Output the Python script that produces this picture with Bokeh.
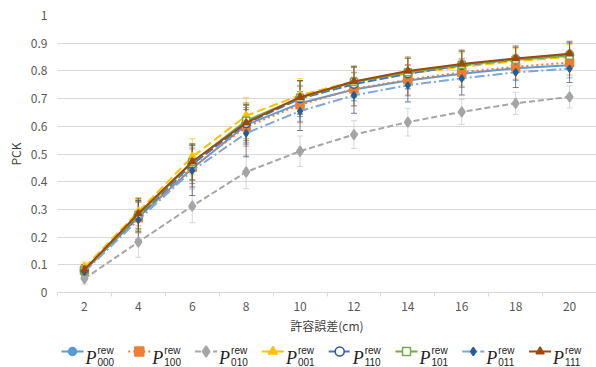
from bokeh.plotting import figure
from bokeh.models import (ColumnDataSource, Range1d, FixedTicker, Whisker, TeeHead,
                          CustomJSTickFormatter)
from bokeh.layouts import column
from bokeh.core.properties import value
from bokeh.embed import file_html
from bokeh.resources import INLINE

# ---------------- data ----------------
tol = [2, 4, 6, 8, 10, 12, 14, 16, 18, 20]

codes = ["000", "100", "010", "001", "110", "101", "011", "111"]

p000 = [0.080, 0.272, 0.448, 0.605, 0.683, 0.733, 0.765, 0.790, 0.810, 0.820]
p100 = [0.080, 0.270, 0.452, 0.598, 0.678, 0.735, 0.768, 0.795, 0.815, 0.830]
p010 = [0.050, 0.182, 0.312, 0.435, 0.510, 0.570, 0.615, 0.652, 0.683, 0.706]
p001 = [0.090, 0.292, 0.490, 0.638, 0.712, 0.762, 0.790, 0.815, 0.835, 0.850]
p110 = [0.080, 0.275, 0.463, 0.610, 0.700, 0.752, 0.790, 0.820, 0.840, 0.857]
p101 = [0.080, 0.280, 0.470, 0.620, 0.703, 0.760, 0.795, 0.822, 0.840, 0.855]
p011 = [0.075, 0.262, 0.440, 0.575, 0.655, 0.712, 0.748, 0.773, 0.795, 0.808]
p111 = [0.082, 0.285, 0.472, 0.613, 0.705, 0.762, 0.800, 0.825, 0.845, 0.862]

e000 = [0.020, 0.055, 0.070, 0.070, 0.065, 0.060, 0.055, 0.050, 0.045, 0.045]
e100 = [0.020, 0.055, 0.070, 0.070, 0.065, 0.060, 0.055, 0.050, 0.045, 0.045]
e010 = [0.020, 0.055, 0.060, 0.060, 0.055, 0.050, 0.050, 0.045, 0.040, 0.040]
e001 = [0.020, 0.050, 0.065, 0.065, 0.060, 0.055, 0.055, 0.050, 0.045, 0.045]
e110 = [0.020, 0.055, 0.070, 0.070, 0.065, 0.060, 0.055, 0.050, 0.045, 0.045]
e101 = [0.020, 0.055, 0.065, 0.065, 0.060, 0.055, 0.050, 0.050, 0.045, 0.045]
e011 = [0.020, 0.070, 0.090, 0.085, 0.070, 0.065, 0.060, 0.060, 0.055, 0.050]
e111 = [0.020, 0.055, 0.065, 0.065, 0.060, 0.055, 0.050, 0.050, 0.045, 0.045]

y_ticks = [i / 10 for i in range(11)]
x_label = "許容誤差(cm)"
y_label = "PCK"

values = [p000, p100, p010, p001, p110, p101, p011, p111]
errors = [e000, e100, e010, e001, e110, e101, e011, e111]

styles = [
    dict(lc="#5B9BD5", dash="solid", mk="circle", fc="#5B9BD5", mc="#5B9BD5", sz=7, ec="#5B9BD5"),
    dict(lc="#ED7D31", dash="2 3", mk="square", fc="#ED7D31", mc="#ED7D31", sz=8, ec="#ED7D31"),
    dict(lc="#A5A5A5", dash="6 3", mk="diamond", fc="#A5A5A5", mc="#A5A5A5", sz=10, ec="#C8C8C8"),
    dict(lc="#FFC000", dash="9 4", mk="triangle", fc="#FFC000", mc="#FFC000", sz=8, ec="#FFC000"),
    dict(lc="#4472C4", dash="9 3", mk="circle", fc="white", mc="#2F5597", sz=8, ec="#4472C4"),
    dict(lc="#70AD47", dash="solid", mk="square", fc="white", mc="#70AD47", sz=7, ec="#70AD47"),
    dict(lc="#7FA6D8", dash="10 3 2 3", mk="diamond", fc="#255E91", mc="#255E91", sz=7, ec="#44546A"),
    dict(lc="#9E480E", dash="solid", mk="triangle", fc="#9E480E", mc="#9E480E", sz=7, ec="#9E480E"),
]

FONT = "Noto Sans CJK JP"
W = 596
MAIN_H = 336
LH = 31
LEFT = 57

p = figure(width=W, height=MAIN_H, x_range=Range1d(1.0, 21.0), y_range=Range1d(0, 1),
           output_backend="svg", toolbar_location=None,
           min_border_left=LEFT, min_border_right=0, min_border_top=15, min_border_bottom=42)
p.outline_line_color = None
p.background_fill_color = "white"
p.xgrid.visible = False
p.ygrid.grid_line_color = "#D9D9D9"
p.ygrid.grid_line_width = 1

p.xaxis.ticker = FixedTicker(ticks=tol, minor_ticks=[1, 3, 5, 7, 9, 11, 13, 15, 17, 19, 21])
p.xaxis.major_tick_line_color = None
p.xaxis.major_tick_out = 0
p.xaxis.major_tick_in = 0
p.xaxis.minor_tick_line_color = "#D9D9D9"
p.xaxis.minor_tick_out = 4
p.xaxis.minor_tick_in = 0
p.xaxis.axis_line_color = "#D9D9D9"
p.xaxis.axis_label = x_label
p.xaxis.major_label_standoff = 5
p.xaxis.axis_label_standoff = 3

p.yaxis.ticker = FixedTicker(ticks=y_ticks, minor_ticks=[])
p.yaxis.formatter = CustomJSTickFormatter(code="return String(Math.round(tick*10)/10)")
p.yaxis.axis_line_color = None
p.yaxis.major_tick_line_color = None
p.yaxis.major_tick_out = 0
p.yaxis.major_tick_in = 0
p.yaxis.minor_tick_line_color = None
p.yaxis.axis_label = y_label
p.yaxis.major_label_standoff = 10
p.yaxis.axis_label_standoff = 4

for ax in (p.xaxis, p.yaxis):
    ax.major_label_text_font = FONT
    ax.major_label_text_font_size = "12px"
    ax.major_label_text_color = "#595959"
    ax.axis_label_text_font = FONT
    ax.axis_label_text_font_size = "12px"
    ax.axis_label_text_font_style = "normal"
    ax.axis_label_text_color = "#404040"

sources = []
for vals, errs, st in zip(values, errors, styles):
    src = ColumnDataSource(dict(
        x=tol, y=vals,
        upper=[v + e for v, e in zip(vals, errs)],
        lower=[v - e for v, e in zip(vals, errs)]))
    sources.append(src)
    w = Whisker(base="x", upper="upper", lower="lower", source=src, dimension="height",
                line_color=st["ec"], line_width=1, line_alpha=0.75,
                upper_head=TeeHead(size=6, line_color=st["ec"], line_width=1, line_alpha=0.75),
                lower_head=TeeHead(size=6, line_color=st["ec"], line_width=1, line_alpha=0.75))
    p.add_layout(w)

for src, st in zip(sources, styles):
    p.line("x", "y", source=src, line_color=st["lc"], line_width=2, line_dash=st["dash"])
    p.scatter("x", "y", source=src, marker=st["mk"], size=st["sz"], fill_color=st["fc"],
              line_color=st["mc"], line_width=1.5)

# ---------------- legend (separate strip, frame aligned with main plot) ----------------
leg = figure(width=W, height=LH, x_range=Range1d(LEFT, W), y_range=Range1d(0, LH),
             output_backend="svg", toolbar_location=None, x_axis_type=None, y_axis_type=None,
             min_border=0, min_border_left=LEFT, min_border_right=0, min_border_top=0,
             min_border_bottom=0)
leg.outline_line_color = None
leg.grid.visible = False

for i, (code, st) in enumerate(zip(codes, styles)):
    x0 = 61 + 66.8 * i
    ly = 16
    leg.segment(x0=[x0], y0=[ly], x1=[x0 + 22], y1=[ly], line_color=st["lc"], line_width=2,
                line_dash=st["dash"])
    leg.scatter(x=[x0 + 11], y=[ly], marker=st["mk"], size=st["sz"] + 1, fill_color=st["fc"],
                line_color=st["mc"], line_width=1.5)
    leg.text(x=[x0 + 24], y=[10], text=["P"], text_font=value("Liberation Serif"),
             text_font_style="italic", text_font_size="18px", text_color="#222222",
             text_baseline="alphabetic", text_align="left")
    leg.text(x=[x0 + 36], y=[17], text=["rew"], text_font=value("Liberation Sans"),
             text_font_size="10px", text_color="#222222",
             text_baseline="alphabetic", text_align="left")
    leg.text(x=[x0 + 36], y=[6], text=[code], text_font=value("Liberation Sans"),
             text_font_size="10px", text_color="#222222",
             text_baseline="alphabetic", text_align="left")

layout = column(p, leg, spacing=0)
open("out.html", "w").write(file_html(layout, INLINE))
